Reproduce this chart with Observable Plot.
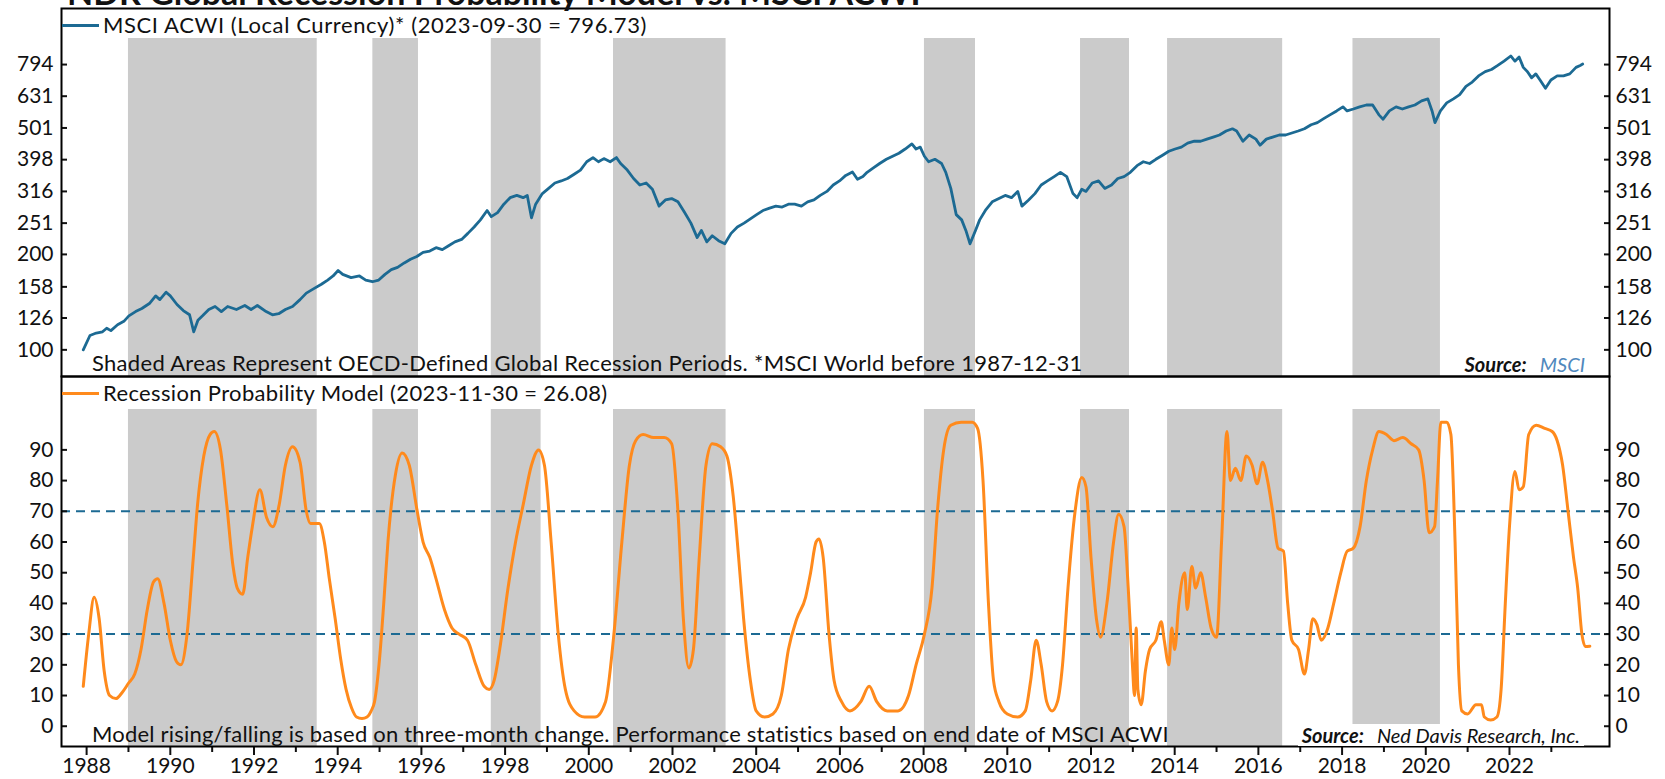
<!DOCTYPE html>
<html><head><meta charset="utf-8">
<script src="https://cdn.jsdelivr.net/npm/d3@7"></script>
<script src="https://cdn.jsdelivr.net/npm/@observablehq/plot@0.6"></script>
<style>
html,body{margin:0;padding:0;background:#fff;}
#wrap{position:relative;width:1665px;height:779px;overflow:hidden;font-family:Lato,"Open Sans",sans-serif;color:#111;}
#wrap svg{position:absolute;left:0;}
.abs{position:absolute;white-space:nowrap;font-size:22px;line-height:22px;letter-spacing:0.35px;}
.src{position:absolute;white-space:nowrap;font-size:20px;line-height:22px;font-style:italic;background:#fff;padding:0 4px;}
.src b{font-weight:700;margin-right:13px;}
.key{position:absolute;height:3px;width:37px;}
</style></head>
<body><div id="wrap"></div>
<script>
// ---- data ----
const recStart = [1989.00, 1994.84, 1997.67, 2000.59, 2008.02, 2011.75, 2013.83, 2018.26];
const recEnd   = [1993.51, 1995.93, 1998.86, 2003.28, 2009.24, 2012.92, 2016.58, 2020.35];

const msciYear = [1987.92,1988.08,1988.23,1988.38,1988.48,1988.58,1988.74,1988.89,1989.01,1989.17,1989.32,1989.50,1989.65,1989.75,1989.90,1990.00,1990.16,1990.31,1990.46,1990.56,1990.66,1990.77,1990.92,1991.07,1991.22,1991.37,1991.58,1991.78,1991.93,1992.08,1992.29,1992.44,1992.59,1992.75,1992.92,1993.10,1993.25,1993.43,1993.61,1993.76,1993.89,1994.01,1994.12,1994.32,1994.52,1994.67,1994.83,1994.98,1995.13,1995.28,1995.43,1995.59,1995.74,1995.89,1996.04,1996.20,1996.35,1996.50,1996.65,1996.80,1996.96,1997.11,1997.26,1997.41,1997.57,1997.67,1997.82,1997.97,1998.12,1998.28,1998.43,1998.53,1998.63,1998.73,1998.89,1999.04,1999.19,1999.34,1999.49,1999.65,1999.80,1999.95,2000.10,2000.23,2000.36,2000.51,2000.66,2000.76,2000.92,2001.07,2001.22,2001.37,2001.52,2001.68,2001.83,2001.98,2002.13,2002.29,2002.44,2002.59,2002.69,2002.82,2002.95,2003.10,2003.25,2003.40,2003.55,2003.71,2003.86,2004.01,2004.16,2004.32,2004.47,2004.62,2004.77,2004.92,2005.08,2005.23,2005.38,2005.53,2005.69,2005.84,2005.99,2006.14,2006.30,2006.42,2006.55,2006.65,2006.80,2006.95,2007.11,2007.26,2007.41,2007.56,2007.72,2007.82,2007.92,2008.02,2008.12,2008.27,2008.43,2008.53,2008.65,2008.78,2008.91,2009.01,2009.11,2009.24,2009.34,2009.49,2009.64,2009.80,2009.95,2010.10,2010.25,2010.35,2010.51,2010.66,2010.81,2010.96,2011.12,2011.27,2011.42,2011.57,2011.67,2011.78,2011.88,2012.03,2012.18,2012.33,2012.49,2012.64,2012.79,2012.94,2013.10,2013.25,2013.40,2013.55,2013.71,2013.86,2014.01,2014.16,2014.31,2014.47,2014.62,2014.77,2014.92,2015.07,2015.23,2015.38,2015.48,2015.63,2015.78,2015.94,2016.04,2016.19,2016.34,2016.50,2016.65,2016.80,2016.95,2017.10,2017.26,2017.41,2017.56,2017.71,2017.87,2018.02,2018.12,2018.27,2018.42,2018.58,2018.73,2018.88,2018.98,2019.13,2019.29,2019.44,2019.59,2019.74,2019.90,2020.05,2020.15,2020.22,2020.35,2020.50,2020.66,2020.81,2020.96,2021.11,2021.26,2021.42,2021.57,2021.72,2021.87,2022.03,2022.13,2022.23,2022.33,2022.43,2022.53,2022.63,2022.73,2022.86,2022.99,2023.14,2023.29,2023.44,2023.59,2023.69,2023.75];
const msciValue = [100,111,113,114,117,115,120,123,128,132,135,140,148,144,152,148,139,133,129,114,124,128,134,137,132,137,134,138,134,138,132,129,130,134,137,144,151,156,161,166,171,178,173,169,171,166,164,166,173,179,182,188,193,197,203,205,210,207,213,219,223,233,244,257,275,263,271,288,302,307,302,307,261,288,311,323,336,341,347,358,369,392,404,392,401,392,404,387,369,347,331,336,321,284,297,300,293,271,251,226,238,219,229,221,216,233,244,251,259,267,275,280,284,282,288,288,284,293,297,307,316,331,341,355,364,345,352,363,375,387,399,408,417,430,446,430,436,408,392,399,387,363,323,267,257,238,216,238,257,277,293,300,307,302,316,284,297,311,331,341,352,363,352,311,302,321,316,336,341,323,331,347,352,363,381,392,387,399,411,423,430,436,449,455,455,462,469,476,490,498,490,455,476,462,442,462,469,476,476,483,490,498,513,521,536,551,567,584,567,575,584,592,592,551,534,567,584,575,584,592,610,619,567,521,567,601,619,638,678,699,731,754,766,789,814,845,814,839,778,754,721,742,710,668,710,731,731,742,778,789,796.73];

const probYear = [1987.92,1988.05,1988.18,1988.30,1988.42,1988.55,1988.70,1988.85,1989.00,1989.15,1989.30,1989.45,1989.60,1989.70,1989.85,1990.00,1990.15,1990.25,1990.40,1990.55,1990.65,1990.80,1990.95,1991.05,1991.20,1991.35,1991.50,1991.60,1991.73,1991.85,1991.96,1992.14,1992.30,1992.45,1992.60,1992.75,1992.92,1993.10,1993.25,1993.35,1993.56,1993.68,1993.80,1993.94,1994.07,1994.20,1994.33,1994.45,1994.58,1994.70,1994.80,1994.88,1995.00,1995.10,1995.20,1995.38,1995.54,1995.71,1995.90,1996.04,1996.20,1996.35,1996.55,1996.73,1996.90,1997.10,1997.30,1997.50,1997.62,1997.74,1997.87,1998.07,1998.25,1998.43,1998.63,1998.80,1998.94,1999.10,1999.27,1999.44,1999.65,1999.90,2000.15,2000.40,2000.60,2000.79,2000.97,2001.12,2001.30,2001.55,2001.80,2001.98,2002.13,2002.26,2002.39,2002.50,2002.64,2002.80,2002.95,2003.15,2003.30,2003.45,2003.58,2003.70,2003.86,2004.00,2004.20,2004.40,2004.60,2004.77,2004.97,2005.18,2005.30,2005.43,2005.50,2005.60,2005.74,2005.86,2006.04,2006.24,2006.50,2006.70,2006.88,2007.13,2007.39,2007.64,2007.82,2008.02,2008.20,2008.33,2008.48,2008.65,2008.90,2009.16,2009.29,2009.42,2009.55,2009.67,2009.80,2010.00,2010.25,2010.43,2010.56,2010.69,2010.81,2010.94,2011.07,2011.20,2011.32,2011.45,2011.62,2011.78,2011.88,2012.00,2012.13,2012.23,2012.38,2012.54,2012.66,2012.79,2012.89,2012.99,2013.04,2013.08,2013.12,2013.20,2013.30,2013.40,2013.55,2013.68,2013.75,2013.86,2013.93,2014.00,2014.10,2014.24,2014.30,2014.41,2014.50,2014.62,2014.74,2014.87,2015.00,2015.12,2015.25,2015.33,2015.45,2015.58,2015.71,2015.85,2015.97,2016.10,2016.22,2016.34,2016.47,2016.60,2016.70,2016.80,2016.96,2017.10,2017.20,2017.30,2017.40,2017.50,2017.66,2017.80,2017.97,2018.12,2018.27,2018.43,2018.58,2018.73,2018.88,2019.06,2019.24,2019.45,2019.65,2019.83,2019.96,2020.08,2020.21,2020.28,2020.36,2020.50,2020.60,2020.70,2020.78,2020.86,2021.00,2021.20,2021.33,2021.40,2021.55,2021.70,2021.80,2021.90,2022.00,2022.13,2022.23,2022.33,2022.46,2022.64,2022.84,2023.02,2023.14,2023.27,2023.40,2023.53,2023.63,2023.73,2023.81,2023.92];
const probValue = [13,30,42,35,18,10,9,11,14,17,25,38,47,48,40,28,21,20,30,55,72,88,95,96,90,72,52,45,43,55,65,77,68,65,72,85,91,86,70,66,66,60,48,35,22,12,6,3,2.5,3,5,8,22,40,60,82,89,85,70,60,55,48,38,32,30,28,20,13,12,15,25,45,60,72,85,90,85,60,30,12,5,3,3,8,30,60,85,93,95,94,94,92,70,35,19,25,55,85,92,91,88,75,55,35,15,5,3,4,10,25,35,42,50,60,61,55,30,15,8,5,8,13,8,5,5,10,20,30,45,70,90,98,99,99,97,80,40,15,8,4,3,5,15,28,20,8,5,8,20,45,70,81,78,55,35,29,40,60,69,65,45,20,10,32,12,7,18,25,28,34,28,20,32,25,40,50,38,52,45,50,42,32,29,60,96,80,84,80,88,85,79,86,80,70,58,57,40,28,25,17,25,35,33,28,32,40,50,57,58,65,80,90,96,95,93,94,92,90,80,63,65,80,99,99,95,60,20,5,4,7,7,3,2,3,12,40,65,83,77,78,95,98,97,96,93,85,70,55,45,30,26,26.08];

const topTicks = [100, 126, 158, 200, 251, 316, 398, 501, 631, 794];
const bottomTicks = [0, 10, 20, 30, 40, 50, 60, 70, 80, 90];
const thresholds = [30, 70];
const yearLabels = d3.range(1988, 2023, 2);
const yearMinor = d3.range(1989, 2024, 2);

// ---- build tables ----
const recessions = recStart.map((s, i) => ({start: s, end: recEnd[i]}));
const msci = msciYear.map((y, i) => ({year: y, value: msciValue[i]}));
const prob = probYear.map((y, i) => ({year: y, value: probValue[i]}));

const BLUE = "#1c6a93", ORANGE = "#ff8a1c", GRAY = "#cbcbcb";
const xDomain = [1987.40, 2024.39];
const baseStyle = {fontFamily: "Lato, 'Open Sans', sans-serif", fontSize: "21px", color: "#111", background: "transparent", overflow: "visible"};
const fmt = d => String(d);

const topPlot = Plot.plot({
  width: 1665, height: 377,
  marginTop: 8, marginBottom: 1, marginLeft: 61, marginRight: 56,
  style: baseStyle,
  x: {domain: xDomain, axis: null},
  y: {type: "log", domain: [82.4, 1193], axis: null},
  marks: [
    Plot.rect(recessions, {x1: "start", x2: "end", fill: GRAY, insetTop: 30}),
    Plot.line(msci, {x: "year", y: "value", stroke: BLUE, strokeWidth: 2.8}),
    Plot.axisY({anchor: "left", label: null, ticks: topTicks, tickFormat: fmt, tickSize: 6, dx: 6, tickPadding: 8, strokeWidth: 2}),
    Plot.axisY({anchor: "right", label: null, ticks: topTicks, tickFormat: fmt, tickSize: 6, dx: -6, tickPadding: 6, strokeWidth: 2}),
    Plot.frame({stroke: "#000", strokeWidth: 2})
  ]
});

const bottomPlot = Plot.plot({
  width: 1665, height: 403,
  marginTop: 0, marginBottom: 33, marginLeft: 61, marginRight: 56,
  style: baseStyle,
  x: {domain: xDomain},
  y: {domain: [-6.6, 113.9], axis: null},
  marks: [
    Plot.rect(recessions, {x1: "start", x2: "end", fill: GRAY, insetTop: 33}),
    Plot.ruleY(thresholds, {stroke: BLUE, strokeWidth: 2, strokeDasharray: "9,6"}),
    Plot.line(prob, {x: "year", y: "value", stroke: ORANGE, strokeWidth: 3, curve: "monotone-x"}),
    Plot.axisY({anchor: "left", label: null, ticks: bottomTicks, tickFormat: fmt, tickSize: 6, dx: 6, tickPadding: 8, strokeWidth: 2}),
    Plot.axisY({anchor: "right", label: null, ticks: bottomTicks, tickFormat: fmt, tickSize: 6, dx: -6, tickPadding: 6, strokeWidth: 2}),
    Plot.axisX({anchor: "bottom", label: null, ticks: yearLabels, tickFormat: fmt, tickSize: 9, tickPadding: 3, strokeWidth: 2, fontSize: 21}),
    Plot.axisX({anchor: "bottom", label: null, ticks: yearMinor, tickFormat: () => "", tickSize: 6, strokeWidth: 2}),
    Plot.frame({stroke: "#000", strokeWidth: 2})
  ]
});

const wrap = document.getElementById("wrap");
topPlot.style.top = "0px";
bottomPlot.style.top = "376px";
wrap.appendChild(topPlot);
wrap.appendChild(bottomPlot);

function add(html, cls, css) {
  const d = document.createElement("div");
  d.className = cls; d.innerHTML = html;
  Object.assign(d.style, css);
  wrap.appendChild(d);
  return d;
}
add("NDR Global Recession Probability Model vs. MSCI ACWI", "abs", {left: "67px", top: "-25px", fontSize: "34px", lineHeight: "34px", fontWeight: "700", letterSpacing: "0px"});
add("", "key", {left: "62px", top: "23.5px", background: BLUE});
add("MSCI ACWI (Local Currency)* (2023-09-30 = 796.73)", "abs", {left: "103px", top: "13.8px", letterSpacing: "0.6px"});
add("Shaded Areas Represent OECD-Defined Global Recession Periods. *MSCI World before 1987-12-31", "abs", {left: "92px", top: "352px", letterSpacing: "0.3px"});
add("<b>Source:</b><span style='color:#4f88bd'>MSCI</span>", "src", {right: "76px", top: "352.6px"});
add("", "key", {left: "62px", top: "391.7px", background: ORANGE});
add("Recession Probability Model (2023-11-30 = 26.08)", "abs", {left: "103px", top: "381.8px"});
add("Model rising/falling is based on three-month change. Performance statistics based on end date of MSCI ACWI", "abs", {left: "92px", top: "722.5px", letterSpacing: "0.2px"});
add("<b>Source:</b>Ned Davis Research, Inc.", "src", {right: "81px", top: "723.6px"});
</script>
</body></html>
